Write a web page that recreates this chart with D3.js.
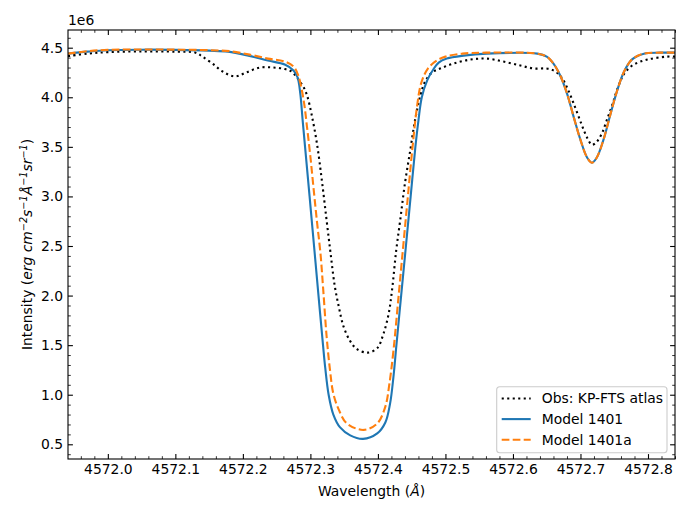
<!DOCTYPE html>
<html>
<head>
<meta charset="utf-8">
<script src="https://cdn.jsdelivr.net/npm/d3@7"></script>
<style>
  body { margin: 0; background: #fff; }
  svg { font-family: "DejaVu Sans", sans-serif; }
</style>
</head>
<body>
<svg id="chart"></svg>
<script>
// Wavelength (Å) and intensity (units of 1e6 erg cm^-2 s^-1 Å^-1 sr^-1)
const obsWave = [4571.941, 4571.97, 4572.00, 4572.05, 4572.10, 4572.13, 4572.14, 4572.155, 4572.17, 4572.188,
  4572.205, 4572.225, 4572.245, 4572.262, 4572.272, 4572.28, 4572.29, 4572.295, 4572.302, 4572.31,
  4572.317, 4572.324, 4572.33, 4572.336, 4572.342, 4572.349, 4572.359, 4572.369, 4572.385, 4572.399,
  4572.408, 4572.416, 4572.421, 4572.427, 4572.433, 4572.44, 4572.448, 4572.455, 4572.463, 4572.47,
  4572.48, 4572.492, 4572.512, 4572.537, 4572.561, 4572.586, 4572.611, 4572.631, 4572.65, 4572.663,
  4572.673, 4572.682, 4572.692, 4572.702, 4572.71, 4572.717, 4572.724, 4572.732, 4572.739, 4572.747,
  4572.756, 4572.766, 4572.779, 4572.799, 4572.828, 4572.84];
const obsInt = [4.415, 4.44, 4.455, 4.463, 4.46, 4.45, 4.41, 4.34, 4.26, 4.21,
  4.25, 4.30, 4.30, 4.285, 4.26, 4.20, 4.10, 4.02, 3.82, 3.52,
  3.16, 2.76, 2.42, 2.10, 1.89, 1.69, 1.54, 1.46, 1.425, 1.47,
  1.61, 1.82, 2.06, 2.45, 2.76, 3.13, 3.47, 3.77, 4.02, 4.16,
  4.25, 4.29, 4.34, 4.38, 4.39, 4.36, 4.32, 4.29, 4.29, 4.26,
  4.19, 4.07, 3.90, 3.72, 3.59, 3.52, 3.55, 3.64, 3.77, 3.92,
  4.11, 4.25, 4.33, 4.38, 4.41, 4.41];

const m1401Wave = [4571.941, 4571.97, 4572.00, 4572.05, 4572.10, 4572.15, 4572.178, 4572.208, 4572.237, 4572.262,
  4572.275, 4572.281, 4572.285, 4572.2885, 4572.2921, 4572.2988, 4572.3054, 4572.312, 4572.3187, 4572.322,
  4572.327, 4572.334, 4572.344, 4572.359, 4572.378, 4572.399, 4572.411, 4572.418, 4572.423, 4572.4274,
  4572.4344, 4572.4415, 4572.4485, 4572.4555, 4572.4601, 4572.465, 4572.473, 4572.482, 4572.49, 4572.502,
  4572.527, 4572.561, 4572.636, 4572.65, 4572.66, 4572.67, 4572.68, 4572.69, 4572.70, 4572.71,
  4572.717, 4572.724, 4572.734, 4572.744, 4572.754, 4572.764, 4572.776, 4572.794, 4572.818, 4572.84];
const m1401Int = [4.44, 4.46, 4.475, 4.48, 4.478, 4.47, 4.46, 4.42, 4.37, 4.33,
  4.27, 4.20, 4.04, 3.77, 3.50, 3.00, 2.50, 2.00, 1.50, 1.27,
  1.00, 0.80, 0.67, 0.59, 0.555, 0.61, 0.72, 0.91, 1.18, 1.50,
  2.00, 2.50, 3.00, 3.50, 3.77, 4.00, 4.17, 4.28, 4.35, 4.39,
  4.42, 4.44, 4.44, 4.41, 4.34, 4.22, 4.04, 3.80, 3.57, 3.39,
  3.34, 3.39, 3.57, 3.82, 4.06, 4.25, 4.38, 4.44, 4.45, 4.45];

const m1401aWave = [4571.941, 4571.97, 4572.00, 4572.05, 4572.10, 4572.15, 4572.18, 4572.21, 4572.237, 4572.262,
  4572.275, 4572.282, 4572.29, 4572.295, 4572.30, 4572.305, 4572.31, 4572.315, 4572.319, 4572.324,
  4572.329, 4572.334, 4572.342, 4572.354, 4572.379, 4572.399, 4572.411, 4572.417, 4572.4231, 4572.4307,
  4572.4375, 4572.4444, 4572.4513, 4572.458, 4572.464, 4572.474, 4572.487, 4572.50, 4572.525, 4572.56,
  4572.636, 4572.65, 4572.66, 4572.67, 4572.68, 4572.69, 4572.70, 4572.71, 4572.717, 4572.724,
  4572.734, 4572.744, 4572.754, 4572.764, 4572.776, 4572.794, 4572.818, 4572.84];
const m1401aInt = [4.44, 4.465, 4.478, 4.482, 4.48, 4.475, 4.465, 4.43, 4.39, 4.36,
  4.31, 4.22, 3.97, 3.70, 3.40, 3.06, 2.73, 2.42, 2.06, 1.59,
  1.25, 1.01, 0.85, 0.71, 0.645, 0.71, 0.88, 1.11, 1.45, 2.00,
  2.50, 3.00, 3.50, 3.91, 4.14, 4.29, 4.37, 4.41, 4.44, 4.45,
  4.44, 4.41, 4.34, 4.22, 4.04, 3.80, 3.57, 3.39, 3.34, 3.39,
  3.57, 3.82, 4.06, 4.25, 4.38, 4.44, 4.45, 4.45];

const xTickLabels = ["4572.0", "4572.1", "4572.2", "4572.3", "4572.4", "4572.5", "4572.6", "4572.7", "4572.8"];
const yTickLabels = ["0.5", "1.0", "1.5", "2.0", "2.5", "3.0", "3.5", "4.0", "4.5"];
const seriesNames = ["Obs: KP-FTS atlas", "Model 1401", "Model 1401a"];

const svgWidth = 690, svgHeight = 519;
const margin = { top: 30, right: 15, bottom: 60, left: 68 };
const width = svgWidth - margin.left - margin.right;
const height = svgHeight - margin.top - margin.bottom;
const fontSize = 13.9;

const root = d3.select("#chart")
  .attr("width", svgWidth)
  .attr("height", svgHeight);

const svg = root.append("g")
  .attr("transform", `translate(${margin.left},${margin.top})`);

const x = d3.scaleLinear().domain([4571.941, 4572.840]).range([0, width]);
const y = d3.scaleLinear().domain([0.3517, 4.6785]).range([height, 0]);

const xMajor = xTickLabels.map(Number);
const yMajor = yTickLabels.map(Number);
const xMinor = d3.range(0, 46).map(i => +(4571.94 + i * 0.02).toFixed(2))
  .filter(v => v >= x.domain()[0] && v <= x.domain()[1] && !xMajor.some(m => Math.abs(m - v) < 1e-6));
const yMinor = d3.range(3, 48).map(i => +(i * 0.1).toFixed(1))
  .filter(v => v >= y.domain()[0] && v <= y.domain()[1] && !yMajor.some(m => Math.abs(m - v) < 1e-6));

const majorLen = 4.9, minorLen = 2.8;

function styleAxis(g) {
  g.select(".domain").remove();
  g.selectAll(".tick line").attr("stroke", "#000").attr("stroke-width", 1.1);
  g.selectAll(".tick text")
    .attr("fill", "#000")
    .attr("font-size", fontSize)
    .attr("font-family", "DejaVu Sans, sans-serif");
}

// Bottom axis with labels
svg.append("g")
  .attr("transform", `translate(0,${height})`)
  .call(d3.axisBottom(x).tickValues(xMajor).tickFormat((d, i) => xTickLabels[i])
    .tickSizeInner(-majorLen).tickSizeOuter(0).tickPadding(5.6))
  .call(styleAxis);
svg.append("g")
  .attr("transform", `translate(0,${height})`)
  .call(d3.axisBottom(x).tickValues(xMinor).tickFormat("").tickSizeInner(-minorLen).tickSizeOuter(0))
  .call(styleAxis)
  .selectAll(".tick line").attr("stroke-width", 0.8);

// Top axis, ticks only
svg.append("g")
  .call(d3.axisTop(x).tickValues(xMajor).tickFormat("").tickSizeInner(-majorLen).tickSizeOuter(0))
  .call(styleAxis);
svg.append("g")
  .call(d3.axisTop(x).tickValues(xMinor).tickFormat("").tickSizeInner(-minorLen).tickSizeOuter(0))
  .call(styleAxis)
  .selectAll(".tick line").attr("stroke-width", 0.8);

// Left axis with labels
svg.append("g")
  .call(d3.axisLeft(y).tickValues(yMajor).tickFormat((d, i) => yTickLabels[i])
    .tickSizeInner(-majorLen).tickSizeOuter(0).tickPadding(4.9))
  .call(styleAxis);
svg.append("g")
  .call(d3.axisLeft(y).tickValues(yMinor).tickFormat("").tickSizeInner(-minorLen).tickSizeOuter(0))
  .call(styleAxis)
  .selectAll(".tick line").attr("stroke-width", 0.8);

// Right axis, ticks only
svg.append("g")
  .attr("transform", `translate(${width},0)`)
  .call(d3.axisRight(y).tickValues(yMajor).tickFormat("").tickSizeInner(-majorLen).tickSizeOuter(0))
  .call(styleAxis);
svg.append("g")
  .attr("transform", `translate(${width},0)`)
  .call(d3.axisRight(y).tickValues(yMinor).tickFormat("").tickSizeInner(-minorLen).tickSizeOuter(0))
  .call(styleAxis)
  .selectAll(".tick line").attr("stroke-width", 0.8);

// Lines
const line = d3.line()
  .x(d => x(d[0]))
  .y(d => y(d[1]))
  .curve(d3.curveCatmullRom.alpha(0.5));

const series = [
  { name: seriesNames[0], wave: obsWave, val: obsInt, color: "#000000", dash: "2.1,3.4" },
  { name: seriesNames[1], wave: m1401Wave, val: m1401Int, color: "#1f77b4", dash: null },
  { name: seriesNames[2], wave: m1401aWave, val: m1401aInt, color: "#ff7f0e", dash: "7.7,3.3" }
];

const plot = svg.append("g");
plot.append("clipPath").attr("id", "clip")
  .append("rect").attr("width", width).attr("height", height);

series.forEach(s => {
  plot.append("path")
    .attr("clip-path", "url(#clip)")
    .attr("fill", "none")
    .attr("stroke", s.color)
    .attr("stroke-width", 2.1)
    .attr("stroke-dasharray", s.dash)
    .attr("d", line(s.wave.map((w, i) => [w, s.val[i]])));
});

// Frame
svg.append("rect")
  .attr("width", width)
  .attr("height", height)
  .attr("fill", "none")
  .attr("stroke", "#000")
  .attr("stroke-width", 1.1);

// Offset text
svg.append("text")
  .attr("x", 0)
  .attr("y", -5)
  .attr("font-size", fontSize)
  .text("1e6");

// X label
const xl = svg.append("text")
  .attr("x", width / 2)
  .attr("y", height + 37)
  .attr("text-anchor", "middle")
  .attr("font-size", fontSize);
xl.append("tspan").text("Wavelength (");
xl.append("tspan").attr("font-style", "italic").text("Å");
xl.append("tspan").text(")");

// Y label
const yl = root.append("text")
  .attr("transform", `translate(32,${margin.top + height / 2}) rotate(-90)`)
  .attr("text-anchor", "middle")
  .attr("font-size", fontSize);
const supSize = 9.7, shift = 5.5;
const parts = [
  ["Intensity (", false, false],
  ["erg cm", true, false], ["−2", true, true],
  ["s", true, false], ["−1", true, true],
  ["Å", true, false], ["−1", true, true],
  ["sr", true, false], ["−1", true, true],
  [")", false, false]
];
let prevSup = false;
parts.forEach(([t, it, sup]) => {
  const ts = yl.append("tspan").text(t);
  if (it) ts.attr("font-style", "italic");
  if (sup) ts.attr("font-size", supSize);
  let dy = 0;
  if (sup && !prevSup) dy = -shift;
  if (!sup && prevSup) dy = shift;
  if (dy) ts.attr("dy", dy);
  prevSup = sup;
});

// Legend
const lg = svg.append("g")
  .attr("transform", `translate(${496.7 - margin.left},${386.7 - margin.top})`);
lg.append("rect")
  .attr("width", 170.3)
  .attr("height", 66)
  .attr("rx", 3)
  .attr("fill", "#fff")
  .attr("fill-opacity", 0.8)
  .attr("stroke", "#cccccc")
  .attr("stroke-width", 1.1);
series.forEach((s, i) => {
  const cy = 11.8 + i * 20.6;
  lg.append("line")
    .attr("x1", 5).attr("x2", 34)
    .attr("y1", cy).attr("y2", cy)
    .attr("stroke", s.color)
    .attr("stroke-width", 2.1)
    .attr("stroke-dasharray", s.dash);
  lg.append("text")
    .attr("x", 45)
    .attr("y", cy)
    .attr("dy", "0.36em")
    .attr("font-size", fontSize)
    .text(s.name);
});
</script>
</body>
</html>
